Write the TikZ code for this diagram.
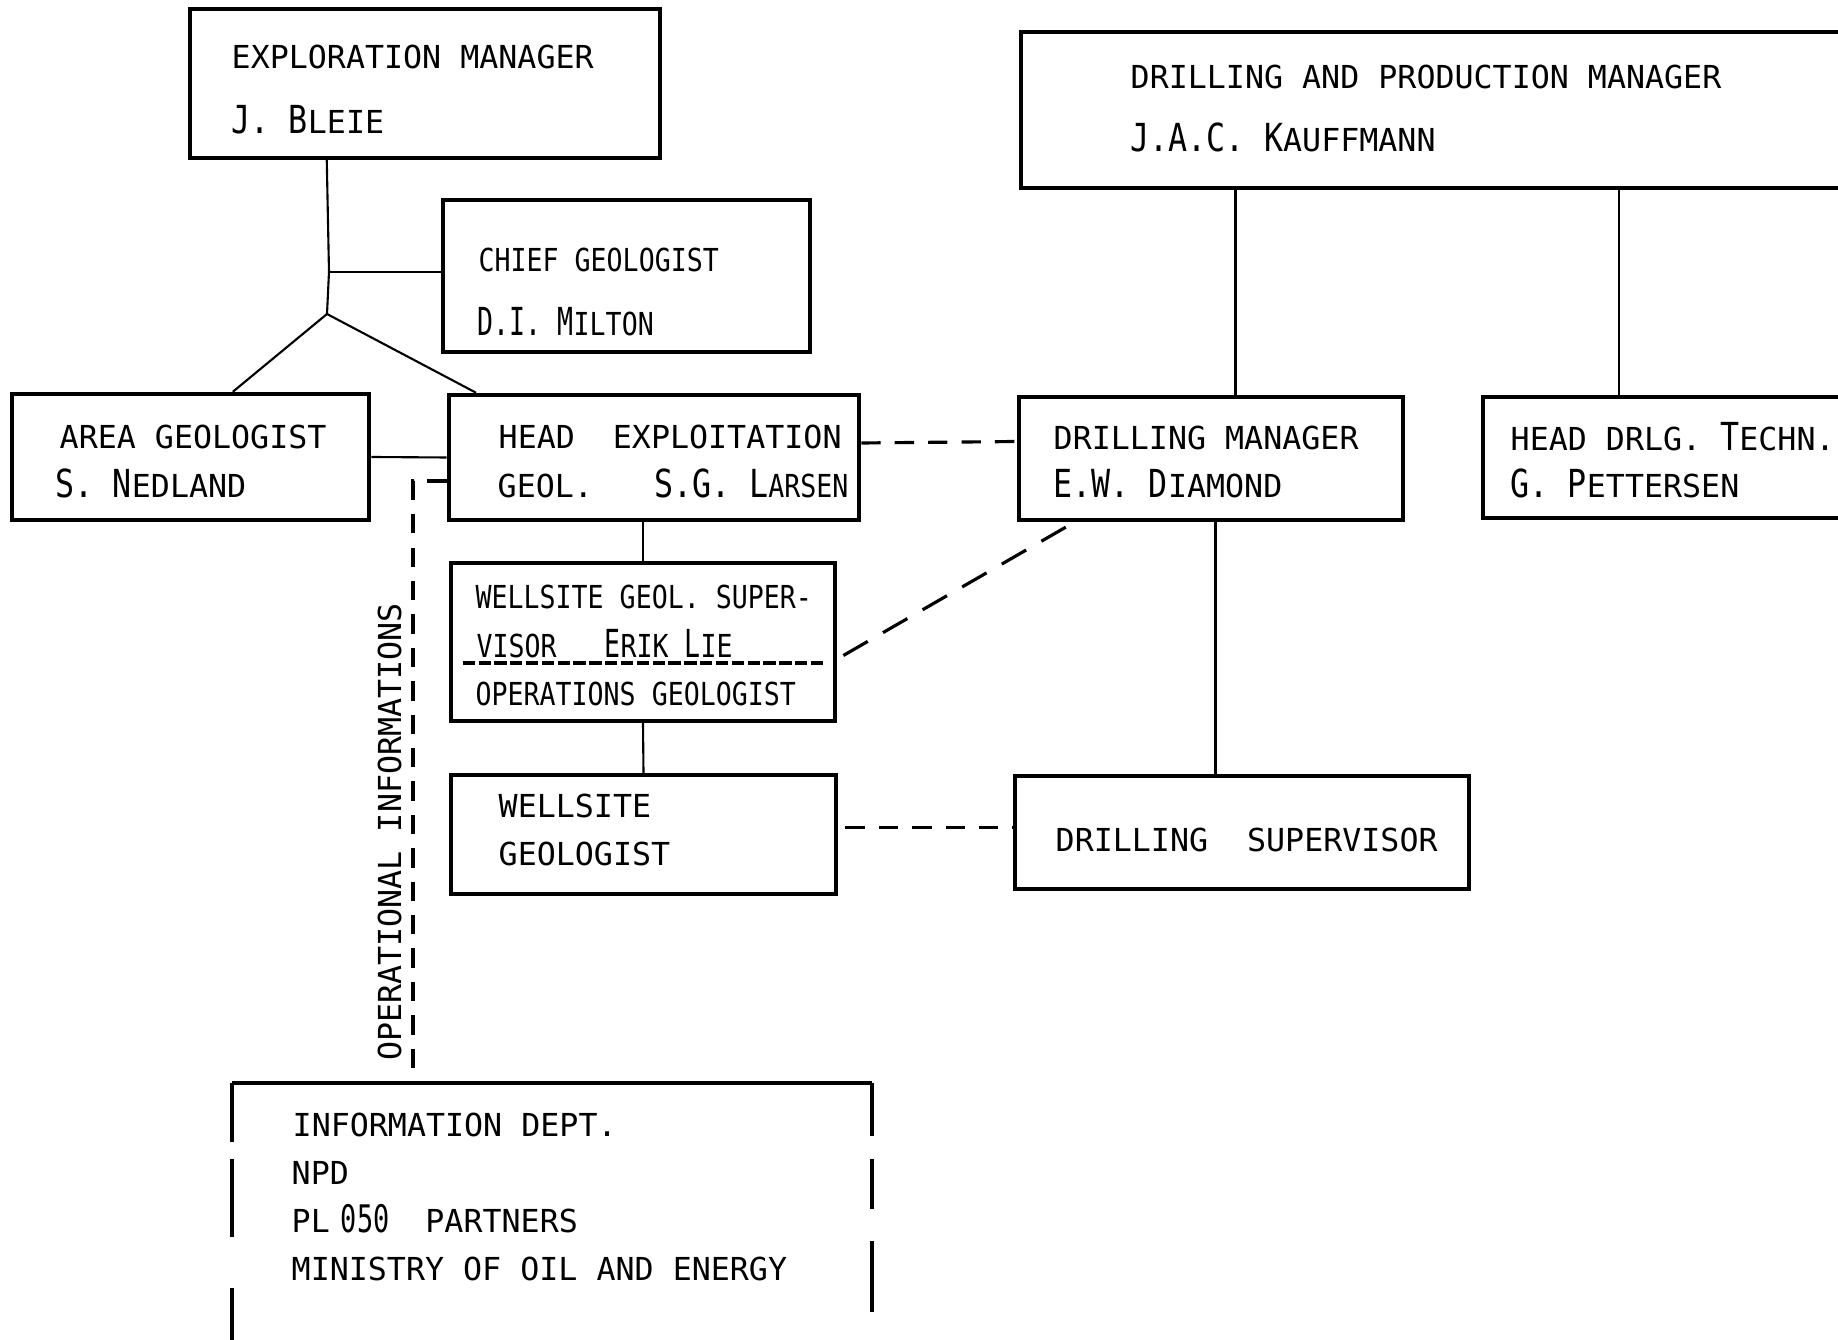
\documentclass[tikz,border=0pt]{standalone}
\usepackage{fontspec}
\setmainfont{DejaVu Sans Mono}
\newfontfamily\narrowtype[FakeStretch=0.84]{DejaVu Sans Mono}
\usepackage{graphicx}
\usetikzlibrary{positioning}
\newcommand{\tallcap}[1]{\scalebox{1}[1.22]{#1}}

\begin{document}
\begin{tikzpicture}[x=0.01cm,y=-0.01cm,
    org box/.style={draw,line width=1.25pt,inner sep=0pt},
    box edge/.style={line width=1.25pt},
    typed/.style={anchor=base west,inner sep=0pt,font=\fontsize{9}{10}\selectfont},
    narrow typed/.style={typed,font=\fontsize{9}{10}\selectfont\narrowtype},
    link/.style={line width=0.6pt},
    dash link/.style={line width=0.9pt,dash pattern=on 5.5pt off 4pt},
    long dash link/.style={line width=0.9pt,dash pattern=on 8pt off 5pt},
    type rule/.style={line width=1.1pt,dash pattern=on 3.5pt off 1pt}]

    \clip (0,0) rectangle (1838,1340);

    \node[org box,minimum width=4.70cm,minimum height=1.49cm] (1) at (425,83.5) {};
    \node[org box,minimum width=3.67cm,minimum height=1.52cm] (2) at (626.5,276) {};
    \node[org box,minimum width=3.57cm,minimum height=1.26cm] (3) at (190.5,457) {};
    \node[org box,minimum width=4.10cm,minimum height=1.25cm] (4) at (654,457.5) {};
    \node[org box,minimum width=3.84cm,minimum height=1.58cm] (5) at (643,642) {};
    \node[org box,minimum width=3.85cm,minimum height=1.19cm] (6) at (643.5,834.5) {};
    \node[org box,minimum width=8.39cm,minimum height=1.56cm] (7) at (1440.5,110) {};
    \node[org box,minimum width=3.84cm,minimum height=1.23cm] (8) at (1211,458.5) {};
    \node[org box,minimum width=3.77cm,minimum height=1.21cm] (9) at (1671.5,457.5) {};
    \node[org box,minimum width=4.54cm,minimum height=1.13cm] (10) at (1242,832.5) {};
    \node[inner sep=0pt,minimum width=6.38cm,minimum height=2.76cm] (11) at (552,1222) {};

    \node[typed] (1a) at (231,69) {EXPLORATION MANAGER};
    \node[typed] (1b) at (231,134) {\tallcap{J.} \tallcap{B}LEIE};
    \node[narrow typed] (2a) at (478,272) {CHIEF GEOLOGIST};
    \node[narrow typed] (2b) at (477,336) {\tallcap{D.I.} \tallcap{M}ILTON};
    \node[typed] (3a) at (59,449) {AREA GEOLOGIST};
    \node[typed] (3b) at (55,498) {\tallcap{S.} \tallcap{N}EDLAND};
    \node[typed] (4a) at (498,449) {HEAD\hspace{0.38cm}EXPLOITATION};
    \node[typed] (4b) at (497,498) {GEOL.\hspace{0.61cm}\tallcap{S.G.} \tallcap{L}{\narrowtype ARSEN}};
    \node[narrow typed] (5a) at (475,609) {WELLSITE GEOL. SUPER-};
    \node[narrow typed] (5b) at (476,658) {VISOR};
    \node[narrow typed] (5c) at (604,658) {\tallcap{E}RIK \tallcap{L}IE};
    \node[narrow typed] (5d) at (475,706) {OPERATIONS GEOLOGIST};
    \node[typed] (6a) at (498,818) {WELLSITE};
    \node[typed] (6b) at (498,866) {GEOLOGIST};
    \node[typed] (7a) at (1130,89) {DRILLING AND PRODUCTION MANAGER};
    \node[typed] (7b) at (1130,152) {\tallcap{J.A.C.} \tallcap{K}AUFFMANN};
    \node[typed] (8a) at (1053,450) {DRILLING MANAGER};
    \node[typed] (8b) at (1053,498) {\tallcap{E.W.} \tallcap{D}IAMOND};
    \node[typed] (9a) at (1510,451) {HEAD DRLG. \tallcap{T}ECHN.};
    \node[typed] (9b) at (1510,498) {\tallcap{G.} \tallcap{P}ETTERSEN};
    \node[typed] (10a) at (1055,852) {DRILLING\hspace{0.39cm}SUPERVISOR};
    \node[typed] (11a) at (292,1137) {INFORMATION DEPT.};
    \node[typed] (11b) at (291,1185) {NPD};
    \node[typed] (11c) at (291,1233) {PL\hspace{0.11cm}\scalebox{0.85}[1.2]{050}\hspace{0.36cm}PARTNERS};
    \node[typed] (11d) at (291,1281) {MINISTRY OF OIL AND ENERGY};
    \node[typed,rotate=90,anchor=base] (15) at (401,832) {OPERATIONAL INFORMATIONS};

    \coordinate (12) at (327,314);
    \coordinate (13) at (329,272);
    \coordinate (14) at (413,481);

    \draw[link] (1.218) -- (13) -- (12);
    \draw[link] (13) -- (13 -| 2.west);
    \draw[link] (12) -- (3.57);
    \draw[link] (12) -- (4.160);
    \path (3.east) edge[link] (4.west);
    \path (5.north |- 4.south) edge[link] (5.north);
    \path (5.south) edge[link] (6.north);
    \path (8.69 |- 7.south) edge[link] (8.69);
    \path (9.130 |- 7.south) edge[link] (9.130);
    \path (8.-86) edge[link] (8.-86 |- 10.north);

    \path (4.4) edge[dash link] (8.175);
    \path (6.2) edge[dash link,shorten <=2pt] (6.2 -| 10.west);
    \path (5.-5) edge[long dash link,shorten <=2pt] (8.205);
    \draw[dash link,shorten >=4pt] (4.west |- 14) -- (14) -- (14 |- 11.north);

    \draw[type rule] (5.west) ++(14,21) -- ++(361,0);

    \draw[box edge] (11.north west) -- (11.north east);
    \draw[box edge] (11.north west) -- ++(0,59);
    \draw[box edge] (11.north west) ++(0,76) -- ++(0,78);
    \draw[box edge] (11.north west) ++(0,205) -- ++(0,60);
    \draw[box edge] (11.north east) -- ++(0,53);
    \draw[box edge] (11.north east) ++(0,76) -- ++(0,50);
    \draw[box edge] (11.north east) ++(0,158) -- ++(0,71);

\end{tikzpicture}
\end{document}
